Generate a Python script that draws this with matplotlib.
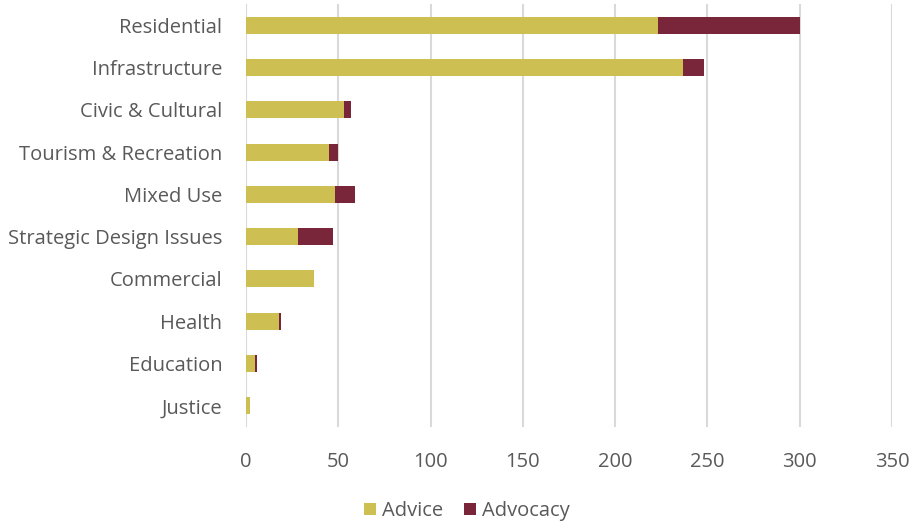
import numpy as np
import matplotlib.pyplot as plt

plt.rcParams.update({
    "font.family": ["Open Sans", "DejaVu Sans"],
    "font.size": 14,
})

# project counts by sector
categories = ["Residential", "Infrastructure", "Civic & Cultural",
              "Tourism & Recreation", "Mixed Use", "Strategic Design Issues",
              "Commercial", "Health", "Education", "Justice"]
advice = [223, 237, 53, 45, 48, 28, 37, 18, 5, 2]
advocacy = [77, 11, 4, 5, 11, 19, 0, 1, 1, 0]

ADVICE_COLOR = "#CDBF52"
ADVOCACY_COLOR = "#7A263A"
TEXT_COLOR = "#595959"
GRID_COLOR = "#D9D9D9"

fig = plt.figure(figsize=(9.14, 5.24), dpi=100)
ax = fig.add_axes([246 / 914, 1 - 427 / 524, (892 - 246) / 914, (427 - 4) / 524])

y = np.arange(len(categories))
ax.barh(y, advice, height=0.4, color=ADVICE_COLOR, label="Advice", zorder=3)
ax.barh(y, advocacy, left=advice, height=0.4, color=ADVOCACY_COLOR,
        label="Advocacy", zorder=3)

ax.set_yticks(y)
ax.set_yticklabels(categories)
ax.set_ylim(len(categories) - 0.5, -0.5)
ax.set_xlim(0, 350)
ax.set_xticks(np.arange(0, 351, 50))

ax.grid(axis="x", color=GRID_COLOR, linewidth=1.5, zorder=0)
for s in ax.spines.values():
    s.set_visible(False)
ax.tick_params(axis="both", length=0, colors=TEXT_COLOR, labelsize=14.5)
ax.tick_params(axis="x", pad=18)
ax.tick_params(axis="y", pad=17)

fig.legend(*ax.get_legend_handles_labels(), loc="center",
           bbox_to_anchor=(467 / 914, 1 - 511 / 524), ncol=2,
           frameon=False, handlelength=0.6, handleheight=0.6, handletextpad=0.3,
           columnspacing=1.0, labelcolor=TEXT_COLOR, fontsize=14.5,
           borderpad=0)

fig.savefig("out.png", dpi=100)
